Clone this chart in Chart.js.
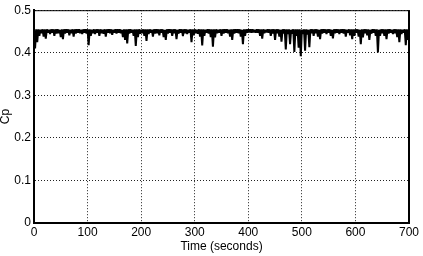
<!DOCTYPE html>
<html>
<head>
<meta charset="utf-8">
<title>Cp vs time</title>
<script src="https://cdn.jsdelivr.net/npm/chart.js@4.4.1/dist/chart.umd.min.js"></script>
<style>
  html, body { margin: 0; padding: 0; background: #fff; }
  canvas { display: block; }
</style>
</head>
<body>
<canvas id="cpChart" width="423" height="256"></canvas>
<script>
const sampleStep = 2; // seconds between samples (peak, trough, peak, ...)
const xTicks = [0, 100, 200, 300, 400, 500, 600, 700];
const yTicks = [0, 0.1, 0.2, 0.3, 0.4, 0.5];

// upper edge of the signal, t = 0, 4, 8 ... 700
const cpPeak = [
    0.448,0.455,0.455,0.454,0.455,0.455,0.455,0.454,0.455,0.455,0.455,0.455,0.454,0.455,0.455,0.455,
    0.455,0.454,0.455,0.455,0.455,0.455,0.454,0.455,0.455,0.455,0.455,0.454,0.455,0.455,0.455,0.455,
    0.454,0.455,0.455,0.455,0.455,0.454,0.455,0.455,0.455,0.454,0.455,0.455,0.455,0.455,0.454,0.455,
    0.455,0.455,0.454,0.455,0.455,0.455,0.455,0.454,0.455,0.455,0.455,0.455,0.455,0.454,0.455,0.455,
    0.455,0.455,0.455,0.454,0.455,0.455,0.455,0.455,0.454,0.455,0.455,0.455,0.454,0.455,0.455,0.455,
    0.454,0.455,0.455,0.455,0.455,0.455,0.454,0.455,0.455,0.455,0.455,0.454,0.455,0.455,0.455,0.455,
    0.455,0.454,0.455,0.455,0.455,0.455,0.455,0.454,0.455,0.455,0.455,0.455,0.454,0.455,0.455,0.455,
    0.455,0.455,0.455,0.454,0.455,0.455,0.455,0.455,0.454,0.455,0.455,0.455,0.455,0.454,0.455,0.455,
    0.454,0.455,0.455,0.455,0.455,0.454,0.455,0.455,0.455,0.455,0.455,0.454,0.455,0.455,0.455,0.455,
    0.455,0.455,0.454,0.455,0.455,0.455,0.455,0.455,0.454,0.455,0.455,0.455,0.455,0.454,0.455,0.455,
    0.455,0.454,0.455,0.455,0.455,0.455,0.455,0.454,0.455,0.455,0.455,0.455,0.454,0.455,0.455,0.455
];

// lower edge of the signal, t = 2, 6, 10 ... 698
const cpTrough = [
    0.410,0.425,0.440,0.446,0.438,0.433,0.447,0.444,0.447,0.440,
    0.445,0.446,0.437,0.432,0.445,0.447,0.441,0.446,0.438,0.445,
    0.447,0.446,0.444,0.447,0.445,0.418,0.440,0.446,0.444,0.447,
    0.440,0.446,0.445,0.438,0.447,0.446,0.442,0.447,0.445,0.447,
    0.446,0.437,0.430,0.422,0.445,0.447,0.440,0.416,0.437,0.445,
    0.446,0.440,0.428,0.444,0.447,0.438,0.445,0.446,0.441,0.447,
    0.437,0.430,0.445,0.447,0.440,0.446,0.432,0.445,0.447,0.439,
    0.446,0.444,0.447,0.425,0.441,0.446,0.445,0.438,0.417,0.440,
    0.447,0.445,0.437,0.414,0.436,0.446,0.447,0.440,0.445,0.447,
    0.446,0.438,0.430,0.445,0.447,0.446,0.438,0.420,0.440,0.447,
    0.448,0.447,0.448,0.447,0.447,0.440,0.433,0.446,0.448,0.447,
    0.440,0.445,0.430,0.446,0.438,0.426,0.445,0.408,0.444,0.420,
    0.445,0.402,0.440,0.412,0.392,0.444,0.405,0.443,0.413,0.446,
    0.440,0.446,0.438,0.432,0.445,0.447,0.444,0.447,0.440,0.434,
    0.446,0.447,0.444,0.447,0.445,0.438,0.447,0.441,0.432,0.440,
    0.447,0.438,0.420,0.436,0.446,0.441,0.430,0.445,0.447,0.440,
    0.401,0.440,0.446,0.440,0.432,0.445,0.447,0.444,0.446,0.437,
    0.425,0.444,0.447,0.418,0.430
];

// interleave peaks and troughs into one time series
const samples = [];
cpPeak.forEach((v, i) => {
    samples.push({ x: i * 2 * sampleStep, y: v });
    if (i < cpTrough.length) samples.push({ x: (i * 2 + 1) * sampleStep, y: cpTrough[i] });
});

const labelFont = { family: "'Liberation Sans', Arial, Helvetica, sans-serif", size: 12 };

// MATLAB style box: top and right edges of the axes
const boxFrame = {
    id: 'boxFrame',
    afterDraw(chart) {
        const { ctx, chartArea: a } = chart;
        ctx.save();
        ctx.strokeStyle = '#000';
        ctx.lineWidth = 1;
        ctx.beginPath();
        ctx.moveTo(a.left, a.top + 0.5);
        ctx.lineTo(a.right, a.top + 0.5);
        ctx.stroke();
        ctx.lineWidth = 2;
        ctx.beginPath();
        ctx.moveTo(a.right, a.top);
        ctx.lineTo(a.right, a.bottom);
        ctx.stroke();
        ctx.restore();
    }
};

new Chart(document.getElementById('cpChart'), {
    type: 'line',
    data: {
        datasets: [{
            label: 'Cp',
            data: samples,
            borderColor: '#000',
            borderWidth: 2,
            borderJoinStyle: 'bevel',
            borderCapStyle: 'butt',
            pointRadius: 0,
            tension: 0,
            fill: false
        }]
    },
    options: {
        responsive: false,
        animation: false,
        layout: { padding: { top: 6, right: 14, left: 0, bottom: 0 } },
        plugins: {
            legend: { display: false },
            tooltip: { enabled: false }
        },
        scales: {
            x: {
                type: 'linear',
                min: 0,
                max: 700,
                afterBuildTicks: s => { s.ticks = xTicks.map(v => ({ value: v })); },
                afterFit: s => { s.height = 33; },
                ticks: {
                    autoSkip: false,
                    maxRotation: 0,
                    padding: 2,
                    color: '#000',
                    font: labelFont,
                    callback: v => String(v)
                },
                grid: { color: '#222', lineWidth: 1, drawTicks: false },
                border: { display: true, color: '#000', width: 2, dash: [1, 2] },
                title: {
                    display: true,
                    text: 'Time (seconds)',
                    color: '#000',
                    font: { family: labelFont.family, size: 12, lineHeight: 1 },
                    padding: { top: 0, bottom: 3 }
                }
            },
            y: {
                min: 0,
                max: 0.5,
                afterBuildTicks: s => { s.ticks = yTicks.map(v => ({ value: v })); },
                afterFit: s => { s.width = 34; },
                ticks: {
                    padding: 3,
                    color: '#000',
                    font: labelFont,
                    callback: v => (v === 0 ? '0' : v.toFixed(1))
                },
                grid: { color: '#222', lineWidth: 1, drawTicks: false },
                border: { display: true, color: '#000', width: 2, dash: [1, 2] },
                title: {
                    display: true,
                    text: 'Cp',
                    color: '#000',
                    font: { family: labelFont.family, size: 12, lineHeight: 1 },
                    padding: { top: 0, bottom: 0 }
                }
            }
        }
    },
    plugins: [boxFrame]
});
</script>
</body>
</html>
